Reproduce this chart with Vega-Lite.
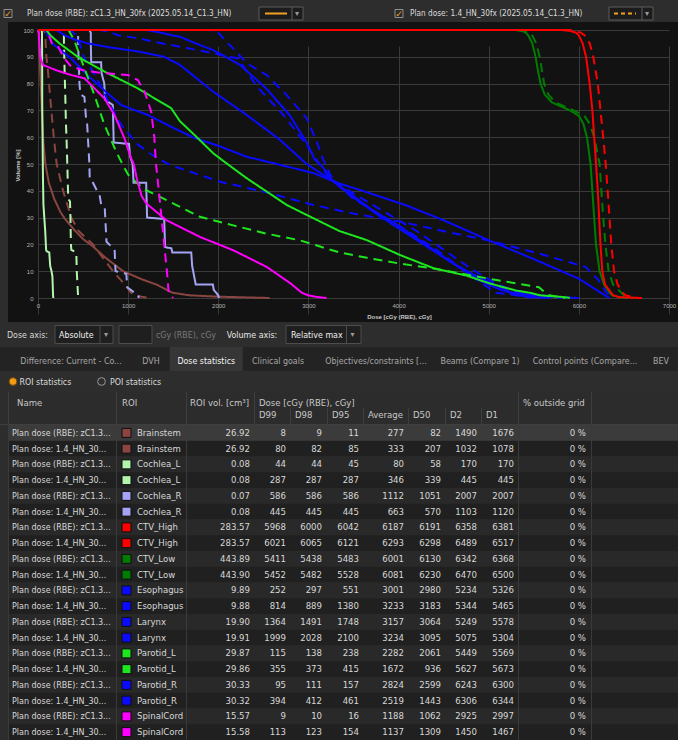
{
"$schema":"https://vega.github.io/schema/vega-lite/v6.json",
"background":"#2d2d2d","padding":0,"spacing":0,"bounds":"full",
"data":{"values":[{}]},
"config":{"view":{"stroke":null},"legend":{"disable":true},
 "text":{"font":"Liberation Sans Narrow, DejaVu Sans Condensed, sans-serif","fontSize":8.8,"color":"#dadada"}},
"datasets":{
"none":[],
"stats":[
{"row":1,"plan":"RBE","name":"Plan dose (RBE): zC1.3...","roi":"Brainstem","vol":26.92,"d99":8,"d98":9,"d95":11,"avg":277,"d50":82,"d2":1490,"d1":1676,"pct":0},
{"row":2,"plan":"1.4","name":"Plan dose: 1.4_HN_30...","roi":"Brainstem","vol":26.92,"d99":80,"d98":82,"d95":85,"avg":333,"d50":207,"d2":1032,"d1":1078,"pct":0},
{"row":3,"plan":"RBE","name":"Plan dose (RBE): zC1.3...","roi":"Cochlea_L","vol":0.08,"d99":44,"d98":44,"d95":45,"avg":80,"d50":58,"d2":170,"d1":170,"pct":0},
{"row":4,"plan":"1.4","name":"Plan dose: 1.4_HN_30...","roi":"Cochlea_L","vol":0.08,"d99":287,"d98":287,"d95":287,"avg":346,"d50":339,"d2":445,"d1":445,"pct":0},
{"row":5,"plan":"RBE","name":"Plan dose (RBE): zC1.3...","roi":"Cochlea_R","vol":0.07,"d99":586,"d98":586,"d95":586,"avg":1112,"d50":1051,"d2":2007,"d1":2007,"pct":0},
{"row":6,"plan":"1.4","name":"Plan dose: 1.4_HN_30...","roi":"Cochlea_R","vol":0.08,"d99":445,"d98":445,"d95":445,"avg":663,"d50":570,"d2":1103,"d1":1120,"pct":0},
{"row":7,"plan":"RBE","name":"Plan dose (RBE): zC1.3...","roi":"CTV_High","vol":283.57,"d99":5968,"d98":6000,"d95":6042,"avg":6187,"d50":6191,"d2":6358,"d1":6381,"pct":0},
{"row":8,"plan":"1.4","name":"Plan dose: 1.4_HN_30...","roi":"CTV_High","vol":283.57,"d99":6021,"d98":6065,"d95":6121,"avg":6293,"d50":6298,"d2":6489,"d1":6517,"pct":0},
{"row":9,"plan":"RBE","name":"Plan dose (RBE): zC1.3...","roi":"CTV_Low","vol":443.89,"d99":5411,"d98":5438,"d95":5483,"avg":6001,"d50":6130,"d2":6342,"d1":6368,"pct":0},
{"row":10,"plan":"1.4","name":"Plan dose: 1.4_HN_30...","roi":"CTV_Low","vol":443.90,"d99":5452,"d98":5482,"d95":5528,"avg":6081,"d50":6230,"d2":6470,"d1":6500,"pct":0},
{"row":11,"plan":"RBE","name":"Plan dose (RBE): zC1.3...","roi":"Esophagus","vol":9.89,"d99":252,"d98":297,"d95":551,"avg":3001,"d50":2980,"d2":5234,"d1":5326,"pct":0},
{"row":12,"plan":"1.4","name":"Plan dose: 1.4_HN_30...","roi":"Esophagus","vol":9.88,"d99":814,"d98":889,"d95":1380,"avg":3233,"d50":3183,"d2":5344,"d1":5465,"pct":0},
{"row":13,"plan":"RBE","name":"Plan dose (RBE): zC1.3...","roi":"Larynx","vol":19.90,"d99":1364,"d98":1491,"d95":1748,"avg":3157,"d50":3064,"d2":5249,"d1":5578,"pct":0},
{"row":14,"plan":"1.4","name":"Plan dose: 1.4_HN_30...","roi":"Larynx","vol":19.91,"d99":1999,"d98":2028,"d95":2100,"avg":3234,"d50":3095,"d2":5075,"d1":5304,"pct":0},
{"row":15,"plan":"RBE","name":"Plan dose (RBE): zC1.3...","roi":"Parotid_L","vol":29.87,"d99":115,"d98":138,"d95":238,"avg":2282,"d50":2061,"d2":5449,"d1":5569,"pct":0},
{"row":16,"plan":"1.4","name":"Plan dose: 1.4_HN_30...","roi":"Parotid_L","vol":29.86,"d99":355,"d98":373,"d95":415,"avg":1672,"d50":936,"d2":5627,"d1":5673,"pct":0},
{"row":17,"plan":"RBE","name":"Plan dose (RBE): zC1.3...","roi":"Parotid_R","vol":30.33,"d99":95,"d98":111,"d95":157,"avg":2824,"d50":2599,"d2":6243,"d1":6300,"pct":0},
{"row":18,"plan":"1.4","name":"Plan dose: 1.4_HN_30...","roi":"Parotid_R","vol":30.32,"d99":394,"d98":412,"d95":461,"avg":2519,"d50":1443,"d2":6306,"d1":6344,"pct":0},
{"row":19,"plan":"RBE","name":"Plan dose (RBE): zC1.3...","roi":"SpinalCord","vol":15.57,"d99":9,"d98":10,"d95":16,"avg":1188,"d50":1062,"d2":2925,"d1":2997,"pct":0},
{"row":20,"plan":"1.4","name":"Plan dose: 1.4_HN_30...","roi":"SpinalCord","vol":15.58,"d99":113,"d98":123,"d95":154,"avg":1137,"d50":1309,"d2":1450,"d1":1467,"pct":0}
],
"dvh":[
{"roi":"Brainstem","plan":"RBE","dose":0,"vol":100},{"roi":"Brainstem","plan":"RBE","dose":8,"vol":99},{"roi":"Brainstem","plan":"RBE","dose":9,"vol":98},{"roi":"Brainstem","plan":"RBE","dose":11,"vol":95},{"roi":"Brainstem","plan":"RBE","dose":20,"vol":88},{"roi":"Brainstem","plan":"RBE","dose":30,"vol":80},{"roi":"Brainstem","plan":"RBE","dose":45,"vol":68},{"roi":"Brainstem","plan":"RBE","dose":60,"vol":58},{"roi":"Brainstem","plan":"RBE","dose":82,"vol":50},{"roi":"Brainstem","plan":"RBE","dose":120,"vol":43},{"roi":"Brainstem","plan":"RBE","dose":180,"vol":37},{"roi":"Brainstem","plan":"RBE","dose":250,"vol":32},{"roi":"Brainstem","plan":"RBE","dose":300,"vol":29.5},{"roi":"Brainstem","plan":"RBE","dose":400,"vol":25.5},{"roi":"Brainstem","plan":"RBE","dose":500,"vol":22},{"roi":"Brainstem","plan":"RBE","dose":600,"vol":19.5},{"roi":"Brainstem","plan":"RBE","dose":750,"vol":15},{"roi":"Brainstem","plan":"RBE","dose":944,"vol":10},{"roi":"Brainstem","plan":"RBE","dose":1150,"vol":7},{"roi":"Brainstem","plan":"RBE","dose":1315,"vol":5},{"roi":"Brainstem","plan":"RBE","dose":1490,"vol":2},{"roi":"Brainstem","plan":"RBE","dose":1676,"vol":1},{"roi":"Brainstem","plan":"RBE","dose":2000,"vol":0.5},{"roi":"Brainstem","plan":"RBE","dose":2570,"vol":0},
{"roi":"Brainstem","plan":"1.4","dose":0,"vol":100},{"roi":"Brainstem","plan":"1.4","dose":60,"vol":100},{"roi":"Brainstem","plan":"1.4","dose":80,"vol":99},{"roi":"Brainstem","plan":"1.4","dose":82,"vol":98},{"roi":"Brainstem","plan":"1.4","dose":85,"vol":95},{"roi":"Brainstem","plan":"1.4","dose":93,"vol":90},{"roi":"Brainstem","plan":"1.4","dose":110,"vol":85},{"roi":"Brainstem","plan":"1.4","dose":122,"vol":80},{"roi":"Brainstem","plan":"1.4","dose":148,"vol":70},{"roi":"Brainstem","plan":"1.4","dose":175,"vol":60},{"roi":"Brainstem","plan":"1.4","dose":207,"vol":50},{"roi":"Brainstem","plan":"1.4","dose":278,"vol":40},{"roi":"Brainstem","plan":"1.4","dose":370,"vol":30},{"roi":"Brainstem","plan":"1.4","dose":450,"vol":25},{"roi":"Brainstem","plan":"1.4","dose":611,"vol":20},{"roi":"Brainstem","plan":"1.4","dose":720,"vol":15},{"roi":"Brainstem","plan":"1.4","dose":833,"vol":10},{"roi":"Brainstem","plan":"1.4","dose":963,"vol":5},{"roi":"Brainstem","plan":"1.4","dose":1032,"vol":2},{"roi":"Brainstem","plan":"1.4","dose":1078,"vol":1},{"roi":"Brainstem","plan":"1.4","dose":1150,"vol":0.5},{"roi":"Brainstem","plan":"1.4","dose":1250,"vol":0},
{"roi":"Cochlea_L","plan":"RBE","dose":0,"vol":100},{"roi":"Cochlea_L","plan":"RBE","dose":40,"vol":100},{"roi":"Cochlea_L","plan":"RBE","dose":44,"vol":99},{"roi":"Cochlea_L","plan":"RBE","dose":45,"vol":95},{"roi":"Cochlea_L","plan":"RBE","dose":46,"vol":88},{"roi":"Cochlea_L","plan":"RBE","dose":47,"vol":72},{"roi":"Cochlea_L","plan":"RBE","dose":52,"vol":55},{"roi":"Cochlea_L","plan":"RBE","dose":55,"vol":45},{"roi":"Cochlea_L","plan":"RBE","dose":60,"vol":35},{"roi":"Cochlea_L","plan":"RBE","dose":70,"vol":30},{"roi":"Cochlea_L","plan":"RBE","dose":80,"vol":25},{"roi":"Cochlea_L","plan":"RBE","dose":90,"vol":18},{"roi":"Cochlea_L","plan":"RBE","dose":95,"vol":17.5},{"roi":"Cochlea_L","plan":"RBE","dose":125,"vol":17},{"roi":"Cochlea_L","plan":"RBE","dose":135,"vol":12},{"roi":"Cochlea_L","plan":"RBE","dose":150,"vol":10},{"roi":"Cochlea_L","plan":"RBE","dose":160,"vol":8},{"roi":"Cochlea_L","plan":"RBE","dose":167,"vol":1},{"roi":"Cochlea_L","plan":"RBE","dose":170,"vol":0},
{"roi":"Cochlea_L","plan":"1.4","dose":0,"vol":100},{"roi":"Cochlea_L","plan":"1.4","dose":280,"vol":100},{"roi":"Cochlea_L","plan":"1.4","dose":287,"vol":99},{"roi":"Cochlea_L","plan":"1.4","dose":288,"vol":95},{"roi":"Cochlea_L","plan":"1.4","dose":295,"vol":85},{"roi":"Cochlea_L","plan":"1.4","dose":303,"vol":75},{"roi":"Cochlea_L","plan":"1.4","dose":310,"vol":65},{"roi":"Cochlea_L","plan":"1.4","dose":316,"vol":60},{"roi":"Cochlea_L","plan":"1.4","dose":325,"vol":50},{"roi":"Cochlea_L","plan":"1.4","dose":333,"vol":40},{"roi":"Cochlea_L","plan":"1.4","dose":335,"vol":37},{"roi":"Cochlea_L","plan":"1.4","dose":355,"vol":36},{"roi":"Cochlea_L","plan":"1.4","dose":360,"vol":30},{"roi":"Cochlea_L","plan":"1.4","dose":365,"vol":20},{"roi":"Cochlea_L","plan":"1.4","dose":370,"vol":18},{"roi":"Cochlea_L","plan":"1.4","dose":425,"vol":17},{"roi":"Cochlea_L","plan":"1.4","dose":430,"vol":10},{"roi":"Cochlea_L","plan":"1.4","dose":438,"vol":5},{"roi":"Cochlea_L","plan":"1.4","dose":445,"vol":0},
{"roi":"Cochlea_R","plan":"RBE","dose":0,"vol":100},{"roi":"Cochlea_R","plan":"RBE","dose":570,"vol":100},{"roi":"Cochlea_R","plan":"RBE","dose":586,"vol":99},{"roi":"Cochlea_R","plan":"RBE","dose":586,"vol":95},{"roi":"Cochlea_R","plan":"RBE","dose":590,"vol":88},{"roi":"Cochlea_R","plan":"RBE","dose":700,"vol":88},{"roi":"Cochlea_R","plan":"RBE","dose":705,"vol":84},{"roi":"Cochlea_R","plan":"RBE","dose":735,"vol":80},{"roi":"Cochlea_R","plan":"RBE","dose":745,"vol":74},{"roi":"Cochlea_R","plan":"RBE","dose":830,"vol":72},{"roi":"Cochlea_R","plan":"RBE","dose":840,"vol":58},{"roi":"Cochlea_R","plan":"RBE","dose":1010,"vol":57.5},{"roi":"Cochlea_R","plan":"RBE","dose":1020,"vol":53},{"roi":"Cochlea_R","plan":"RBE","dose":1050,"vol":50},{"roi":"Cochlea_R","plan":"RBE","dose":1060,"vol":43},{"roi":"Cochlea_R","plan":"RBE","dose":1200,"vol":43},{"roi":"Cochlea_R","plan":"RBE","dose":1210,"vol":30},{"roi":"Cochlea_R","plan":"RBE","dose":1400,"vol":29.5},{"roi":"Cochlea_R","plan":"RBE","dose":1410,"vol":19},{"roi":"Cochlea_R","plan":"RBE","dose":1480,"vol":18.5},{"roi":"Cochlea_R","plan":"RBE","dose":1490,"vol":17},{"roi":"Cochlea_R","plan":"RBE","dose":1700,"vol":17},{"roi":"Cochlea_R","plan":"RBE","dose":1710,"vol":12},{"roi":"Cochlea_R","plan":"RBE","dose":1750,"vol":5},{"roi":"Cochlea_R","plan":"RBE","dose":1940,"vol":5},{"roi":"Cochlea_R","plan":"RBE","dose":1950,"vol":3},{"roi":"Cochlea_R","plan":"RBE","dose":2000,"vol":1},{"roi":"Cochlea_R","plan":"RBE","dose":2007,"vol":0},
{"roi":"Cochlea_R","plan":"1.4","dose":0,"vol":100},{"roi":"Cochlea_R","plan":"1.4","dose":430,"vol":100},{"roi":"Cochlea_R","plan":"1.4","dose":445,"vol":99},{"roi":"Cochlea_R","plan":"1.4","dose":445,"vol":95},{"roi":"Cochlea_R","plan":"1.4","dose":455,"vol":85},{"roi":"Cochlea_R","plan":"1.4","dose":460,"vol":80},{"roi":"Cochlea_R","plan":"1.4","dose":470,"vol":76},{"roi":"Cochlea_R","plan":"1.4","dose":515,"vol":75},{"roi":"Cochlea_R","plan":"1.4","dose":535,"vol":66},{"roi":"Cochlea_R","plan":"1.4","dose":545,"vol":65},{"roi":"Cochlea_R","plan":"1.4","dose":570,"vol":50},{"roi":"Cochlea_R","plan":"1.4","dose":574,"vol":44},{"roi":"Cochlea_R","plan":"1.4","dose":610,"vol":43},{"roi":"Cochlea_R","plan":"1.4","dose":685,"vol":38},{"roi":"Cochlea_R","plan":"1.4","dose":700,"vol":35},{"roi":"Cochlea_R","plan":"1.4","dose":740,"vol":34},{"roi":"Cochlea_R","plan":"1.4","dose":760,"vol":21},{"roi":"Cochlea_R","plan":"1.4","dose":850,"vol":18},{"roi":"Cochlea_R","plan":"1.4","dose":860,"vol":10},{"roi":"Cochlea_R","plan":"1.4","dose":980,"vol":9},{"roi":"Cochlea_R","plan":"1.4","dose":990,"vol":4},{"roi":"Cochlea_R","plan":"1.4","dose":1070,"vol":2},{"roi":"Cochlea_R","plan":"1.4","dose":1103,"vol":1.5},{"roi":"Cochlea_R","plan":"1.4","dose":1120,"vol":0},
{"roi":"Esophagus","plan":"RBE","dose":0,"vol":100},{"roi":"Esophagus","plan":"RBE","dose":200,"vol":100},{"roi":"Esophagus","plan":"RBE","dose":252,"vol":99},{"roi":"Esophagus","plan":"RBE","dose":297,"vol":98},{"roi":"Esophagus","plan":"RBE","dose":400,"vol":96.5},{"roi":"Esophagus","plan":"RBE","dose":551,"vol":95},{"roi":"Esophagus","plan":"RBE","dose":800,"vol":93.5},{"roi":"Esophagus","plan":"RBE","dose":1108,"vol":92},{"roi":"Esophagus","plan":"RBE","dose":1400,"vol":90},{"roi":"Esophagus","plan":"RBE","dose":1574,"vol":87},{"roi":"Esophagus","plan":"RBE","dose":1944,"vol":77},{"roi":"Esophagus","plan":"RBE","dose":2315,"vol":68.3},{"roi":"Esophagus","plan":"RBE","dose":2685,"vol":59},{"roi":"Esophagus","plan":"RBE","dose":2980,"vol":50},{"roi":"Esophagus","plan":"RBE","dose":3300,"vol":43},{"roi":"Esophagus","plan":"RBE","dose":3500,"vol":38},{"roi":"Esophagus","plan":"RBE","dose":3700,"vol":33},{"roi":"Esophagus","plan":"RBE","dose":4000,"vol":27},{"roi":"Esophagus","plan":"RBE","dose":4300,"vol":20},{"roi":"Esophagus","plan":"RBE","dose":4600,"vol":13},{"roi":"Esophagus","plan":"RBE","dose":4900,"vol":6.5},{"roi":"Esophagus","plan":"RBE","dose":5100,"vol":3.5},{"roi":"Esophagus","plan":"RBE","dose":5234,"vol":2},{"roi":"Esophagus","plan":"RBE","dose":5326,"vol":1},{"roi":"Esophagus","plan":"RBE","dose":5500,"vol":0.3},{"roi":"Esophagus","plan":"RBE","dose":5650,"vol":0},
{"roi":"Esophagus","plan":"1.4","dose":0,"vol":100},{"roi":"Esophagus","plan":"1.4","dose":700,"vol":100},{"roi":"Esophagus","plan":"1.4","dose":814,"vol":99},{"roi":"Esophagus","plan":"1.4","dose":889,"vol":98},{"roi":"Esophagus","plan":"1.4","dose":1100,"vol":97},{"roi":"Esophagus","plan":"1.4","dose":1380,"vol":95},{"roi":"Esophagus","plan":"1.4","dose":1648,"vol":93.3},{"roi":"Esophagus","plan":"1.4","dose":1944,"vol":91.3},{"roi":"Esophagus","plan":"1.4","dose":2222,"vol":89.4},{"roi":"Esophagus","plan":"1.4","dose":2426,"vol":79},{"roi":"Esophagus","plan":"1.4","dose":2722,"vol":68.3},{"roi":"Esophagus","plan":"1.4","dose":2982,"vol":57},{"roi":"Esophagus","plan":"1.4","dose":3100,"vol":51},{"roi":"Esophagus","plan":"1.4","dose":3204,"vol":46},{"roi":"Esophagus","plan":"1.4","dose":3350,"vol":42},{"roi":"Esophagus","plan":"1.4","dose":3600,"vol":37},{"roi":"Esophagus","plan":"1.4","dose":3900,"vol":31},{"roi":"Esophagus","plan":"1.4","dose":4200,"vol":25},{"roi":"Esophagus","plan":"1.4","dose":4500,"vol":18},{"roi":"Esophagus","plan":"1.4","dose":4800,"vol":11},{"roi":"Esophagus","plan":"1.4","dose":5100,"vol":5},{"roi":"Esophagus","plan":"1.4","dose":5344,"vol":2},{"roi":"Esophagus","plan":"1.4","dose":5465,"vol":1},{"roi":"Esophagus","plan":"1.4","dose":5600,"vol":0.3},{"roi":"Esophagus","plan":"1.4","dose":5800,"vol":0},
{"roi":"Larynx","plan":"RBE","dose":0,"vol":100},{"roi":"Larynx","plan":"RBE","dose":1200,"vol":100},{"roi":"Larynx","plan":"RBE","dose":1364,"vol":99},{"roi":"Larynx","plan":"RBE","dose":1491,"vol":98},{"roi":"Larynx","plan":"RBE","dose":1574,"vol":97.5},{"roi":"Larynx","plan":"RBE","dose":1748,"vol":95},{"roi":"Larynx","plan":"RBE","dose":1944,"vol":92.5},{"roi":"Larynx","plan":"RBE","dose":2241,"vol":87},{"roi":"Larynx","plan":"RBE","dose":2537,"vol":78},{"roi":"Larynx","plan":"RBE","dose":2797,"vol":68},{"roi":"Larynx","plan":"RBE","dose":2981,"vol":58},{"roi":"Larynx","plan":"RBE","dose":3064,"vol":52},{"roi":"Larynx","plan":"RBE","dose":3167,"vol":48.5},{"roi":"Larynx","plan":"RBE","dose":3278,"vol":43.4},{"roi":"Larynx","plan":"RBE","dose":3500,"vol":37.5},{"roi":"Larynx","plan":"RBE","dose":3750,"vol":31.5},{"roi":"Larynx","plan":"RBE","dose":4000,"vol":26},{"roi":"Larynx","plan":"RBE","dose":4300,"vol":19.5},{"roi":"Larynx","plan":"RBE","dose":4600,"vol":13},{"roi":"Larynx","plan":"RBE","dose":4900,"vol":7.5},{"roi":"Larynx","plan":"RBE","dose":5100,"vol":4.5},{"roi":"Larynx","plan":"RBE","dose":5249,"vol":2},{"roi":"Larynx","plan":"RBE","dose":5400,"vol":1.4},{"roi":"Larynx","plan":"RBE","dose":5578,"vol":1},{"roi":"Larynx","plan":"RBE","dose":5800,"vol":0.3},{"roi":"Larynx","plan":"RBE","dose":6000,"vol":0},
{"roi":"Larynx","plan":"1.4","dose":0,"vol":100},{"roi":"Larynx","plan":"1.4","dose":1900,"vol":100},{"roi":"Larynx","plan":"1.4","dose":1999,"vol":99},{"roi":"Larynx","plan":"1.4","dose":2028,"vol":98},{"roi":"Larynx","plan":"1.4","dose":2100,"vol":95},{"roi":"Larynx","plan":"1.4","dose":2130,"vol":94.4},{"roi":"Larynx","plan":"1.4","dose":2315,"vol":87.6},{"roi":"Larynx","plan":"1.4","dose":2537,"vol":83.2},{"roi":"Larynx","plan":"1.4","dose":2760,"vol":75.7},{"roi":"Larynx","plan":"1.4","dose":2982,"vol":67},{"roi":"Larynx","plan":"1.4","dose":3095,"vol":58},{"roi":"Larynx","plan":"1.4","dose":3160,"vol":52},{"roi":"Larynx","plan":"1.4","dose":3241,"vol":46},{"roi":"Larynx","plan":"1.4","dose":3350,"vol":41.5},{"roi":"Larynx","plan":"1.4","dose":3500,"vol":37},{"roi":"Larynx","plan":"1.4","dose":3800,"vol":31},{"roi":"Larynx","plan":"1.4","dose":4100,"vol":25},{"roi":"Larynx","plan":"1.4","dose":4400,"vol":18.5},{"roi":"Larynx","plan":"1.4","dose":4700,"vol":11},{"roi":"Larynx","plan":"1.4","dose":4900,"vol":6},{"roi":"Larynx","plan":"1.4","dose":5075,"vol":2},{"roi":"Larynx","plan":"1.4","dose":5304,"vol":1},{"roi":"Larynx","plan":"1.4","dose":5450,"vol":0.3},{"roi":"Larynx","plan":"1.4","dose":5600,"vol":0},
{"roi":"Parotid_R","plan":"RBE","dose":0,"vol":100},{"roi":"Parotid_R","plan":"RBE","dose":80,"vol":100},{"roi":"Parotid_R","plan":"RBE","dose":95,"vol":99},{"roi":"Parotid_R","plan":"RBE","dose":111,"vol":98},{"roi":"Parotid_R","plan":"RBE","dose":157,"vol":95},{"roi":"Parotid_R","plan":"RBE","dose":250,"vol":92.5},{"roi":"Parotid_R","plan":"RBE","dose":367,"vol":89.4},{"roi":"Parotid_R","plan":"RBE","dose":552,"vol":83},{"roi":"Parotid_R","plan":"RBE","dose":750,"vol":77},{"roi":"Parotid_R","plan":"RBE","dose":922,"vol":72},{"roi":"Parotid_R","plan":"RBE","dose":1219,"vol":68.3},{"roi":"Parotid_R","plan":"RBE","dose":1500,"vol":63.5},{"roi":"Parotid_R","plan":"RBE","dose":1737,"vol":59.7},{"roi":"Parotid_R","plan":"RBE","dose":2000,"vol":56.8},{"roi":"Parotid_R","plan":"RBE","dose":2315,"vol":52.7},{"roi":"Parotid_R","plan":"RBE","dose":2650,"vol":50},{"roi":"Parotid_R","plan":"RBE","dose":3056,"vol":46.6},{"roi":"Parotid_R","plan":"RBE","dose":3343,"vol":42.7},{"roi":"Parotid_R","plan":"RBE","dose":3574,"vol":40.3},{"roi":"Parotid_R","plan":"RBE","dose":4081,"vol":34.6},{"roi":"Parotid_R","plan":"RBE","dose":4500,"vol":29},{"roi":"Parotid_R","plan":"RBE","dose":5004,"vol":21.5},{"roi":"Parotid_R","plan":"RBE","dose":5500,"vol":14.5},{"roi":"Parotid_R","plan":"RBE","dose":6000,"vol":7.2},{"roi":"Parotid_R","plan":"RBE","dose":6243,"vol":2},{"roi":"Parotid_R","plan":"RBE","dose":6300,"vol":0.8},{"roi":"Parotid_R","plan":"RBE","dose":6340,"vol":0},
{"roi":"Parotid_R","plan":"1.4","dose":0,"vol":100},{"roi":"Parotid_R","plan":"1.4","dose":350,"vol":100},{"roi":"Parotid_R","plan":"1.4","dose":394,"vol":99},{"roi":"Parotid_R","plan":"1.4","dose":412,"vol":98},{"roi":"Parotid_R","plan":"1.4","dose":461,"vol":95},{"roi":"Parotid_R","plan":"1.4","dose":515,"vol":89.4},{"roi":"Parotid_R","plan":"1.4","dose":600,"vol":85},{"roi":"Parotid_R","plan":"1.4","dose":682,"vol":80},{"roi":"Parotid_R","plan":"1.4","dose":800,"vol":72},{"roi":"Parotid_R","plan":"1.4","dose":922,"vol":64.6},{"roi":"Parotid_R","plan":"1.4","dose":1100,"vol":57.5},{"roi":"Parotid_R","plan":"1.4","dose":1237,"vol":54},{"roi":"Parotid_R","plan":"1.4","dose":1443,"vol":50},{"roi":"Parotid_R","plan":"1.4","dose":1574,"vol":48.4},{"roi":"Parotid_R","plan":"1.4","dose":2019,"vol":43.4},{"roi":"Parotid_R","plan":"1.4","dose":2500,"vol":39.7},{"roi":"Parotid_R","plan":"1.4","dose":3056,"vol":34.7},{"roi":"Parotid_R","plan":"1.4","dose":3500,"vol":31.5},{"roi":"Parotid_R","plan":"1.4","dose":4019,"vol":28.5},{"roi":"Parotid_R","plan":"1.4","dose":4450,"vol":25.3},{"roi":"Parotid_R","plan":"1.4","dose":4982,"vol":21.6},{"roi":"Parotid_R","plan":"1.4","dose":5557,"vol":16.6},{"roi":"Parotid_R","plan":"1.4","dose":6074,"vol":11.6},{"roi":"Parotid_R","plan":"1.4","dose":6221,"vol":6.6},{"roi":"Parotid_R","plan":"1.4","dose":6306,"vol":2},{"roi":"Parotid_R","plan":"1.4","dose":6344,"vol":1},{"roi":"Parotid_R","plan":"1.4","dose":6380,"vol":0},
{"roi":"Parotid_L","plan":"RBE","dose":0,"vol":100},{"roi":"Parotid_L","plan":"RBE","dose":90,"vol":100},{"roi":"Parotid_L","plan":"RBE","dose":115,"vol":99},{"roi":"Parotid_L","plan":"RBE","dose":138,"vol":98},{"roi":"Parotid_L","plan":"RBE","dose":238,"vol":95},{"roi":"Parotid_L","plan":"RBE","dose":441,"vol":90},{"roi":"Parotid_L","plan":"RBE","dose":737,"vol":84.5},{"roi":"Parotid_L","plan":"RBE","dose":1108,"vol":78.2},{"roi":"Parotid_L","plan":"RBE","dose":1478,"vol":70.8},{"roi":"Parotid_L","plan":"RBE","dose":1574,"vol":66},{"roi":"Parotid_L","plan":"RBE","dose":1737,"vol":60.8},{"roi":"Parotid_L","plan":"RBE","dose":1944,"vol":54},{"roi":"Parotid_L","plan":"RBE","dose":2061,"vol":51},{"roi":"Parotid_L","plan":"RBE","dose":2315,"vol":44.7},{"roi":"Parotid_L","plan":"RBE","dose":2760,"vol":34.7},{"roi":"Parotid_L","plan":"RBE","dose":2908,"vol":32.2},{"roi":"Parotid_L","plan":"RBE","dose":3343,"vol":25},{"roi":"Parotid_L","plan":"RBE","dose":3648,"vol":21.6},{"roi":"Parotid_L","plan":"RBE","dose":4019,"vol":16},{"roi":"Parotid_L","plan":"RBE","dose":4389,"vol":11.1},{"roi":"Parotid_L","plan":"RBE","dose":4760,"vol":8.3},{"roi":"Parotid_L","plan":"RBE","dose":5004,"vol":5.5},{"roi":"Parotid_L","plan":"RBE","dose":5300,"vol":2.8},{"roi":"Parotid_L","plan":"RBE","dose":5449,"vol":2},{"roi":"Parotid_L","plan":"RBE","dose":5569,"vol":1},{"roi":"Parotid_L","plan":"RBE","dose":5852,"vol":0.3},{"roi":"Parotid_L","plan":"RBE","dose":5900,"vol":0},
{"roi":"Parotid_L","plan":"1.4","dose":0,"vol":100},{"roi":"Parotid_L","plan":"1.4","dose":340,"vol":100},{"roi":"Parotid_L","plan":"1.4","dose":355,"vol":99},{"roi":"Parotid_L","plan":"1.4","dose":373,"vol":98},{"roi":"Parotid_L","plan":"1.4","dose":415,"vol":95},{"roi":"Parotid_L","plan":"1.4","dose":515,"vol":85.7},{"roi":"Parotid_L","plan":"1.4","dose":626,"vol":75.7},{"roi":"Parotid_L","plan":"1.4","dose":737,"vol":64.6},{"roi":"Parotid_L","plan":"1.4","dose":867,"vol":54.6},{"roi":"Parotid_L","plan":"1.4","dose":936,"vol":50},{"roi":"Parotid_L","plan":"1.4","dose":1000,"vol":46},{"roi":"Parotid_L","plan":"1.4","dose":1167,"vol":40.8},{"roi":"Parotid_L","plan":"1.4","dose":1426,"vol":36.5},{"roi":"Parotid_L","plan":"1.4","dose":1796,"vol":30.3},{"roi":"Parotid_L","plan":"1.4","dose":2167,"vol":27.1},{"roi":"Parotid_L","plan":"1.4","dose":2537,"vol":24},{"roi":"Parotid_L","plan":"1.4","dose":2907,"vol":21.5},{"roi":"Parotid_L","plan":"1.4","dose":3343,"vol":17},{"roi":"Parotid_L","plan":"1.4","dose":3648,"vol":15},{"roi":"Parotid_L","plan":"1.4","dose":4019,"vol":12.8},{"roi":"Parotid_L","plan":"1.4","dose":4389,"vol":11},{"roi":"Parotid_L","plan":"1.4","dose":5004,"vol":7.2},{"roi":"Parotid_L","plan":"1.4","dose":5557,"vol":4},{"roi":"Parotid_L","plan":"1.4","dose":5627,"vol":2},{"roi":"Parotid_L","plan":"1.4","dose":5673,"vol":1},{"roi":"Parotid_L","plan":"1.4","dose":5779,"vol":0.4},{"roi":"Parotid_L","plan":"1.4","dose":5850,"vol":0},
{"roi":"SpinalCord","plan":"RBE","dose":0,"vol":100},{"roi":"SpinalCord","plan":"RBE","dose":9,"vol":99},{"roi":"SpinalCord","plan":"RBE","dose":10,"vol":98},{"roi":"SpinalCord","plan":"RBE","dose":16,"vol":95},{"roi":"SpinalCord","plan":"RBE","dose":25,"vol":90},{"roi":"SpinalCord","plan":"RBE","dose":52,"vol":87},{"roi":"SpinalCord","plan":"RBE","dose":200,"vol":85},{"roi":"SpinalCord","plan":"RBE","dose":367,"vol":83.2},{"roi":"SpinalCord","plan":"RBE","dose":515,"vol":82},{"roi":"SpinalCord","plan":"RBE","dose":589,"vol":79.5},{"roi":"SpinalCord","plan":"RBE","dose":737,"vol":74.5},{"roi":"SpinalCord","plan":"RBE","dose":848,"vol":68.3},{"roi":"SpinalCord","plan":"RBE","dose":959,"vol":59.6},{"roi":"SpinalCord","plan":"RBE","dose":1033,"vol":52.1},{"roi":"SpinalCord","plan":"RBE","dose":1062,"vol":50},{"roi":"SpinalCord","plan":"RBE","dose":1100,"vol":44},{"roi":"SpinalCord","plan":"RBE","dose":1150,"vol":38},{"roi":"SpinalCord","plan":"RBE","dose":1204,"vol":35.2},{"roi":"SpinalCord","plan":"RBE","dose":1426,"vol":29},{"roi":"SpinalCord","plan":"RBE","dose":1796,"vol":22.8},{"roi":"SpinalCord","plan":"RBE","dose":2167,"vol":17.8},{"roi":"SpinalCord","plan":"RBE","dose":2537,"vol":11.6},{"roi":"SpinalCord","plan":"RBE","dose":2800,"vol":5.5},{"roi":"SpinalCord","plan":"RBE","dose":2925,"vol":2},{"roi":"SpinalCord","plan":"RBE","dose":2997,"vol":1},{"roi":"SpinalCord","plan":"RBE","dose":3093,"vol":0.4},{"roi":"SpinalCord","plan":"RBE","dose":3200,"vol":0},
{"roi":"SpinalCord","plan":"1.4","dose":0,"vol":100},{"roi":"SpinalCord","plan":"1.4","dose":100,"vol":100},{"roi":"SpinalCord","plan":"1.4","dose":113,"vol":99},{"roi":"SpinalCord","plan":"1.4","dose":123,"vol":98},{"roi":"SpinalCord","plan":"1.4","dose":154,"vol":95},{"roi":"SpinalCord","plan":"1.4","dose":219,"vol":94},{"roi":"SpinalCord","plan":"1.4","dose":293,"vol":89.4},{"roi":"SpinalCord","plan":"1.4","dose":367,"vol":86.3},{"roi":"SpinalCord","plan":"1.4","dose":500,"vol":85},{"roi":"SpinalCord","plan":"1.4","dose":700,"vol":84},{"roi":"SpinalCord","plan":"1.4","dose":997,"vol":83.2},{"roi":"SpinalCord","plan":"1.4","dose":1108,"vol":81.3},{"roi":"SpinalCord","plan":"1.4","dose":1182,"vol":77},{"roi":"SpinalCord","plan":"1.4","dose":1256,"vol":69.5},{"roi":"SpinalCord","plan":"1.4","dose":1290,"vol":60},{"roi":"SpinalCord","plan":"1.4","dose":1309,"vol":50},{"roi":"SpinalCord","plan":"1.4","dose":1340,"vol":40},{"roi":"SpinalCord","plan":"1.4","dose":1370,"vol":30},{"roi":"SpinalCord","plan":"1.4","dose":1400,"vol":20},{"roi":"SpinalCord","plan":"1.4","dose":1430,"vol":10},{"roi":"SpinalCord","plan":"1.4","dose":1450,"vol":2},{"roi":"SpinalCord","plan":"1.4","dose":1467,"vol":1},{"roi":"SpinalCord","plan":"1.4","dose":1500,"vol":0},
{"roi":"CTV_Low","plan":"RBE","dose":0,"vol":100},{"roi":"CTV_Low","plan":"RBE","dose":5300,"vol":100},{"roi":"CTV_Low","plan":"RBE","dose":5380,"vol":99.5},{"roi":"CTV_Low","plan":"RBE","dose":5411,"vol":99},{"roi":"CTV_Low","plan":"RBE","dose":5438,"vol":98},{"roi":"CTV_Low","plan":"RBE","dose":5483,"vol":95},{"roi":"CTV_Low","plan":"RBE","dose":5520,"vol":90},{"roi":"CTV_Low","plan":"RBE","dose":5545,"vol":85},{"roi":"CTV_Low","plan":"RBE","dose":5575,"vol":80},{"roi":"CTV_Low","plan":"RBE","dose":5620,"vol":76},{"roi":"CTV_Low","plan":"RBE","dose":5700,"vol":73},{"roi":"CTV_Low","plan":"RBE","dose":5800,"vol":71.5},{"roi":"CTV_Low","plan":"RBE","dose":5900,"vol":70},{"roi":"CTV_Low","plan":"RBE","dose":6000,"vol":68},{"roi":"CTV_Low","plan":"RBE","dose":6050,"vol":65},{"roi":"CTV_Low","plan":"RBE","dose":6090,"vol":60},{"roi":"CTV_Low","plan":"RBE","dose":6130,"vol":50},{"roi":"CTV_Low","plan":"RBE","dose":6150,"vol":40},{"roi":"CTV_Low","plan":"RBE","dose":6170,"vol":30},{"roi":"CTV_Low","plan":"RBE","dose":6190,"vol":20},{"roi":"CTV_Low","plan":"RBE","dose":6230,"vol":10},{"roi":"CTV_Low","plan":"RBE","dose":6280,"vol":5},{"roi":"CTV_Low","plan":"RBE","dose":6342,"vol":2},{"roi":"CTV_Low","plan":"RBE","dose":6368,"vol":1},{"roi":"CTV_Low","plan":"RBE","dose":6450,"vol":0.3},{"roi":"CTV_Low","plan":"RBE","dose":6550,"vol":0},
{"roi":"CTV_Low","plan":"1.4","dose":0,"vol":100},{"roi":"CTV_Low","plan":"1.4","dose":5350,"vol":100},{"roi":"CTV_Low","plan":"1.4","dose":5420,"vol":99.5},{"roi":"CTV_Low","plan":"1.4","dose":5452,"vol":99},{"roi":"CTV_Low","plan":"1.4","dose":5482,"vol":98},{"roi":"CTV_Low","plan":"1.4","dose":5528,"vol":95},{"roi":"CTV_Low","plan":"1.4","dose":5565,"vol":90},{"roi":"CTV_Low","plan":"1.4","dose":5590,"vol":85},{"roi":"CTV_Low","plan":"1.4","dose":5615,"vol":80},{"roi":"CTV_Low","plan":"1.4","dose":5660,"vol":76},{"roi":"CTV_Low","plan":"1.4","dose":5740,"vol":73},{"roi":"CTV_Low","plan":"1.4","dose":5840,"vol":71.5},{"roi":"CTV_Low","plan":"1.4","dose":5940,"vol":70},{"roi":"CTV_Low","plan":"1.4","dose":6060,"vol":68},{"roi":"CTV_Low","plan":"1.4","dose":6120,"vol":65},{"roi":"CTV_Low","plan":"1.4","dose":6170,"vol":60},{"roi":"CTV_Low","plan":"1.4","dose":6230,"vol":50},{"roi":"CTV_Low","plan":"1.4","dose":6250,"vol":40},{"roi":"CTV_Low","plan":"1.4","dose":6270,"vol":30},{"roi":"CTV_Low","plan":"1.4","dose":6295,"vol":20},{"roi":"CTV_Low","plan":"1.4","dose":6330,"vol":10},{"roi":"CTV_Low","plan":"1.4","dose":6380,"vol":5},{"roi":"CTV_Low","plan":"1.4","dose":6470,"vol":2},{"roi":"CTV_Low","plan":"1.4","dose":6500,"vol":1},{"roi":"CTV_Low","plan":"1.4","dose":6560,"vol":0.3},{"roi":"CTV_Low","plan":"1.4","dose":6620,"vol":0},
{"roi":"CTV_High","plan":"RBE","dose":0,"vol":100},{"roi":"CTV_High","plan":"RBE","dose":5800,"vol":100},{"roi":"CTV_High","plan":"RBE","dose":5900,"vol":99.7},{"roi":"CTV_High","plan":"RBE","dose":5968,"vol":99},{"roi":"CTV_High","plan":"RBE","dose":6000,"vol":98},{"roi":"CTV_High","plan":"RBE","dose":6042,"vol":95},{"roi":"CTV_High","plan":"RBE","dose":6080,"vol":90},{"roi":"CTV_High","plan":"RBE","dose":6120,"vol":80},{"roi":"CTV_High","plan":"RBE","dose":6150,"vol":70},{"roi":"CTV_High","plan":"RBE","dose":6170,"vol":60},{"roi":"CTV_High","plan":"RBE","dose":6191,"vol":50},{"roi":"CTV_High","plan":"RBE","dose":6210,"vol":40},{"roi":"CTV_High","plan":"RBE","dose":6225,"vol":30},{"roi":"CTV_High","plan":"RBE","dose":6240,"vol":20},{"roi":"CTV_High","plan":"RBE","dose":6260,"vol":10},{"roi":"CTV_High","plan":"RBE","dose":6290,"vol":5},{"roi":"CTV_High","plan":"RBE","dose":6358,"vol":2},{"roi":"CTV_High","plan":"RBE","dose":6381,"vol":1},{"roi":"CTV_High","plan":"RBE","dose":6450,"vol":0.3},{"roi":"CTV_High","plan":"RBE","dose":6700,"vol":0},
{"roi":"CTV_High","plan":"1.4","dose":0,"vol":100},{"roi":"CTV_High","plan":"1.4","dose":5900,"vol":100},{"roi":"CTV_High","plan":"1.4","dose":5970,"vol":99.6},{"roi":"CTV_High","plan":"1.4","dose":6021,"vol":99},{"roi":"CTV_High","plan":"1.4","dose":6065,"vol":98},{"roi":"CTV_High","plan":"1.4","dose":6121,"vol":95},{"roi":"CTV_High","plan":"1.4","dose":6160,"vol":90},{"roi":"CTV_High","plan":"1.4","dose":6210,"vol":80},{"roi":"CTV_High","plan":"1.4","dose":6240,"vol":70},{"roi":"CTV_High","plan":"1.4","dose":6270,"vol":60},{"roi":"CTV_High","plan":"1.4","dose":6298,"vol":50},{"roi":"CTV_High","plan":"1.4","dose":6320,"vol":40},{"roi":"CTV_High","plan":"1.4","dose":6340,"vol":30},{"roi":"CTV_High","plan":"1.4","dose":6360,"vol":20},{"roi":"CTV_High","plan":"1.4","dose":6390,"vol":10},{"roi":"CTV_High","plan":"1.4","dose":6430,"vol":5},{"roi":"CTV_High","plan":"1.4","dose":6489,"vol":2},{"roi":"CTV_High","plan":"1.4","dose":6517,"vol":1},{"roi":"CTV_High","plan":"1.4","dose":6600,"vol":0.3},{"roi":"CTV_High","plan":"1.4","dose":6650,"vol":0}
]},
"vconcat":[
{"spacing":0,"bounds":"flush","hconcat":[
 {"width":16,"height":22,"layer":[
  {"mark":{"type":"point","shape":"M-4,-1.5H4V6.5H-4Z","size":4,"filled":true,"opacity":1,"fill":"#2a2a2a","stroke":"#909090","strokeWidth":1}},
  {"mark":{"type":"text","text":"✓","font":"DejaVu Sans","fontSize":9,"color":"#f5a020","dy":2.5}}]},
 {"width":240,"height":22,"mark":{"type":"text","text":"Plan dose (RBE): zC1.3_HN_30fx (2025.05.14_C1.3_HN)","align":"left","dx":-109,"dy":2.5,"fontSize":8.2,"color":"#dddddd"}},
 {"width":50,"height":22,"layer":[
  {"mark":{"type":"point","shape":"M-22,-4H22V9H-22Z M11,-4V9","size":4,"filled":true,"opacity":1,"fill":"#1c1c1c","stroke":"#5c5c5c","strokeWidth":1}},
  {"mark":{"type":"point","shape":"M-16,2.5H6","size":4,"filled":false,"opacity":1,"stroke":"#f5a020","strokeWidth":2}},
  {"mark":{"type":"text","text":"▾","font":"DejaVu Sans","fontSize":8,"color":"#9a9a9a","dx":16,"dy":2.5}}]},
 {"width":85,"height":22,"data":{"name":"none"},"mark":{"type":"text","text":""}},
 {"width":16,"height":22,"layer":[
  {"mark":{"type":"point","shape":"M-4,-1.5H4V6.5H-4Z","size":4,"filled":true,"opacity":1,"fill":"#2a2a2a","stroke":"#909090","strokeWidth":1}},
  {"mark":{"type":"text","text":"✓","font":"DejaVu Sans","fontSize":9,"color":"#f5a020","dy":2.5}}]},
 {"width":199,"height":22,"mark":{"type":"text","text":"Plan dose: 1.4_HN_30fx (2025.05.14_C1.3_HN)","align":"left","dx":-96.5,"dy":2.5,"fontSize":8.2,"color":"#dddddd"}},
 {"width":50,"height":22,"layer":[
  {"mark":{"type":"point","shape":"M-22,-4H22V9H-22Z M11,-4V9","size":4,"filled":true,"opacity":1,"fill":"#1c1c1c","stroke":"#5c5c5c","strokeWidth":1}},
  {"mark":{"type":"point","shape":"M-17,2.5H5","size":4,"filled":false,"opacity":1,"stroke":"#f5a020","strokeWidth":2,"strokeDash":[4,3]}},
  {"mark":{"type":"text","text":"▾","font":"DejaVu Sans","fontSize":8,"color":"#9a9a9a","dx":16,"dy":2.5}}]},
 {"width":22,"height":22,"data":{"name":"none"},"mark":{"type":"text","text":""}}
]},
{"spacing":0,"bounds":"flush","hconcat":[
 {"width":8,"height":300,"data":{"name":"none"},"mark":{"type":"text","text":""}},
 {"width":670,"height":300,"view":{"fill":"#121212"},"data":{"name":"dvh"},
  "mark":{"type":"line","strokeWidth":2},
  "encoding":{
   "x":{"field":"dose","type":"quantitative","scale":{"domain":[0,7000],"range":[30,661],"nice":false,"zero":false},
     "axis":{"values":[0,1000,2000,3000,4000,5000,6000,7000],"format":"d","offset":-24,"domain":false,"ticks":false,"labelPadding":4,"labelFontSize":6,"labelColor":"#b4b4b4","labelFont":"Liberation Sans","labelFlush":false,"grid":true,"gridColor":"#3a3a3a","gridWidth":1,"title":"Dose [cGy (RBE), cGy]","titleFont":"Liberation Sans","titleFontSize":6,"titleFontWeight":"bold","titleColor":"#c8c8c8","titleX":391,"titleY":18,"titleAlign":"center","titleBaseline":"middle"}},
   "y":{"field":"vol","type":"quantitative","scale":{"domain":[0,100],"range":[276,8],"nice":false,"zero":false},
     "axis":{"values":[0,10,20,30,40,50,60,70,80,90,100],"offset":-30,"domain":false,"ticks":false,"labelPadding":5,"labelFontSize":6,"labelColor":"#b4b4b4","labelFont":"Liberation Sans","grid":true,"gridColor":"#3a3a3a","gridWidth":1,"title":"Volume [%]","titleFont":"Liberation Sans","titleFontSize":6,"titleFontWeight":"bold","titleColor":"#c8c8c8","titleX":-21,"titleY":143,"titleAngle":-90,"titleAlign":"center","titleBaseline":"middle"}},
   "color":{"field":"roi","type":"nominal","legend":null,"scale":{"domain":["Brainstem","Cochlea_L","Cochlea_R","CTV_High","CTV_Low","Esophagus","Larynx","Parotid_L","Parotid_R","SpinalCord"],"range":["#8a4540","#b4f5ad","#a4a4f4","#ff0000","#007d00","#0a0aff","#0a0aff","#1ee61e","#0a0aff","#ff00ff"]}},
   "strokeDash":{"field":"plan","type":"nominal","legend":null,"scale":{"domain":["RBE","1.4"],"range":[[1,0],[9,6]]}},
   "order":{"value":null}
  }}
]},
{"spacing":0,"bounds":"flush","hconcat":[
 {"width":55,"height":25,"mark":{"type":"text","text":"Dose axis:","color":"#dadada"}},
 {"width":58,"height":25,"layer":[
  {"mark":{"type":"point","shape":"M-29,-9H29V9H-29Z M16,-9V9","size":4,"filled":true,"opacity":1,"fill":"#1f1f1f","stroke":"#4d4d4d","strokeWidth":1}},
  {"mark":{"type":"text","text":"Absolute","align":"left","dx":-25,"color":"#f0f0f0"}},
  {"mark":{"type":"text","text":"▾","font":"DejaVu Sans","fontSize":8,"color":"#9a9a9a","dx":22}}]},
 {"width":45,"height":25,"mark":{"type":"point","shape":"M-16.5,-9H16.5V9H-16.5Z","size":4,"filled":true,"opacity":1,"fill":"#1f1f1f","stroke":"#4d4d4d","strokeWidth":1}},
 {"width":60,"height":25,"mark":{"type":"text","text":"cGy (RBE), cGy","dx":-2,"color":"#7a7a7a"}},
 {"width":68,"height":25,"mark":{"type":"text","text":"Volume axis:","color":"#e8e8e8"}},
 {"width":75,"height":25,"layer":[
  {"mark":{"type":"point","shape":"M-37.5,-9H37.5V9H-37.5Z M23,-9V9","size":4,"filled":true,"opacity":1,"fill":"#1f1f1f","stroke":"#4d4d4d","strokeWidth":1}},
  {"mark":{"type":"text","text":"Relative max","align":"left","dx":-32.5,"color":"#f0f0f0"}},
  {"mark":{"type":"text","text":"▾","font":"DejaVu Sans","fontSize":8,"color":"#9a9a9a","dx":29}}]},
 {"width":317,"height":25,"data":{"name":"none"},"mark":{"type":"text","text":""}}
]},
{"spacing":0,"bounds":"flush","hconcat":[
 {"width":142,"height":24,"view":{"fill":"#232323"},"mark":{"type":"text","text":"Difference: Current - Co...","dy":1.5,"color":"#a8a8a8"}},
 {"width":18,"height":24,"view":{"fill":"#232323"},"mark":{"type":"text","text":"DVH","dy":1.5,"color":"#a8a8a8"}},
 {"width":9.5,"height":24,"view":{"fill":"#232323"},"data":{"name":"none"},"mark":{"type":"text","text":""}},
 {"width":72.5,"height":24,"view":{"fill":"#363636"},"mark":{"type":"text","text":"Dose statistics","dy":1.5,"color":"#f4f4f4"}},
 {"width":70,"height":24,"view":{"fill":"#232323"},"mark":{"type":"text","text":"Clinical goals","dy":1.5,"color":"#a8a8a8"}},
 {"width":126,"height":24,"view":{"fill":"#232323"},"mark":{"type":"text","text":"Objectives/constraints [...","dy":1.5,"color":"#a8a8a8"}},
 {"width":82,"height":24,"view":{"fill":"#232323"},"mark":{"type":"text","text":"Beams (Compare 1)","dy":1.5,"color":"#a8a8a8"}},
 {"width":128,"height":24,"view":{"fill":"#232323"},"mark":{"type":"text","text":"Control points (Compare...","dy":1.5,"color":"#a8a8a8"}},
 {"width":24,"height":24,"view":{"fill":"#232323"},"mark":{"type":"text","text":"BEV","dy":1.5,"color":"#a8a8a8"}},
 {"width":6,"height":24,"view":{"fill":"#232323"},"data":{"name":"none"},"mark":{"type":"text","text":""}}
]},
{"spacing":0,"bounds":"flush","hconcat":[
 {"width":26,"height":21,"layer":[
  {"mark":{"type":"point","shape":"circle","size":60,"filled":true,"opacity":1,"fill":"#f29a16","stroke":"#7a4a08","strokeWidth":1}},
  {"mark":{"type":"text","text":"ROI statistics","align":"left","dx":6.5,"color":"#dadada"}}]},
 {"width":64,"height":21,"data":{"name":"none"},"mark":{"type":"text","text":""}},
 {"width":23,"height":21,"layer":[
  {"mark":{"type":"point","shape":"circle","size":60,"filled":false,"opacity":1,"stroke":"#9a9a9a","strokeWidth":1}},
  {"mark":{"type":"text","text":"POI statistics","align":"left","dx":8.5,"color":"#dadada"}}]},
 {"width":565,"height":21,"data":{"name":"none"},"mark":{"type":"text","text":""}}
]},
{"spacing":0,"bounds":"full","hconcat":[
 {"width":8,"height":32,"data":{"name":"none"},"mark":{"type":"text","text":""}},
 {"width":1,"height":32,"view":{"fill":"#3e3e3e"},"data":{"name":"none"},"mark":{"type":"text","text":""}},
 {"width":107,"height":32,"view":{"fill":"#2c2c2c"},"mark":{"type":"text","text":"Name","align":"left","dx":-45.5,"dy":-5,"fontSize":9.5,"color":"#c8c8c8"}},
 {"width":1,"height":32,"view":{"fill":"#3e3e3e"},"data":{"name":"none"},"mark":{"type":"text","text":""}},
 {"width":69,"height":32,"view":{"fill":"#2c2c2c"},"mark":{"type":"text","text":"ROI","align":"left","dx":-29.5,"dy":-5,"fontSize":9.5,"color":"#c8c8c8"}},
 {"width":1,"height":32,"view":{"fill":"#3e3e3e"},"data":{"name":"none"},"mark":{"type":"text","text":""}},
 {"width":67,"height":32,"view":{"fill":"#2c2c2c"},"mark":{"type":"text","text":"ROI vol. [cm³]","align":"left","dx":-30.5,"dy":-5,"fontSize":9.5,"color":"#c8c8c8"}},
 {"width":1,"height":32,"view":{"fill":"#3e3e3e"},"data":{"name":"none"},"mark":{"type":"text","text":""}},
 {"spacing":0,"bounds":"full","vconcat":[
  {"width":263,"height":16,"view":{"fill":"#2c2c2c"},"mark":{"type":"text","text":"Dose [cGy (RBE), cGy]","align":"left","dx":-127.5,"dy":3,"fontSize":9.5,"color":"#c8c8c8"}},
  {"spacing":0,"bounds":"flush","hconcat":[
   {"width":35,"height":16,"view":{"fill":"#2c2c2c"},"mark":{"type":"text","text":"D99","align":"left","dx":-13.5,"dy":-1.5,"fontSize":9.5,"color":"#c8c8c8"}},
   {"width":1,"height":16,"view":{"fill":"#3e3e3e"},"data":{"name":"none"},"mark":{"type":"text","text":""}},
   {"width":36,"height":16,"view":{"fill":"#2c2c2c"},"mark":{"type":"text","text":"D98","align":"left","dx":-14,"dy":-1.5,"fontSize":9.5,"color":"#c8c8c8"}},
   {"width":1,"height":16,"view":{"fill":"#3e3e3e"},"data":{"name":"none"},"mark":{"type":"text","text":""}},
   {"width":35,"height":16,"view":{"fill":"#2c2c2c"},"mark":{"type":"text","text":"D95","align":"left","dx":-13.5,"dy":-1.5,"fontSize":9.5,"color":"#c8c8c8"}},
   {"width":1,"height":16,"view":{"fill":"#3e3e3e"},"data":{"name":"none"},"mark":{"type":"text","text":""}},
   {"width":44,"height":16,"view":{"fill":"#2c2c2c"},"mark":{"type":"text","text":"Average","align":"left","dx":-18,"dy":-1.5,"fontSize":9.5,"color":"#c8c8c8"}},
   {"width":1,"height":16,"view":{"fill":"#3e3e3e"},"data":{"name":"none"},"mark":{"type":"text","text":""}},
   {"width":36,"height":16,"view":{"fill":"#2c2c2c"},"mark":{"type":"text","text":"D50","align":"left","dx":-14,"dy":-1.5,"fontSize":9.5,"color":"#c8c8c8"}},
   {"width":1,"height":16,"view":{"fill":"#3e3e3e"},"data":{"name":"none"},"mark":{"type":"text","text":""}},
   {"width":35,"height":16,"view":{"fill":"#2c2c2c"},"mark":{"type":"text","text":"D2","align":"left","dx":-13.5,"dy":-1.5,"fontSize":9.5,"color":"#c8c8c8"}},
   {"width":1,"height":16,"view":{"fill":"#3e3e3e"},"data":{"name":"none"},"mark":{"type":"text","text":""}},
   {"width":36,"height":16,"view":{"fill":"#2c2c2c"},"mark":{"type":"text","text":"D1","align":"left","dx":-14,"dy":-1.5,"fontSize":9.5,"color":"#c8c8c8"}}
  ]}
 ]},
 {"width":1,"height":32,"view":{"fill":"#3e3e3e"},"data":{"name":"none"},"mark":{"type":"text","text":""}},
 {"width":72,"height":32,"view":{"fill":"#2c2c2c"},"mark":{"type":"text","text":"% outside grid","align":"left","dx":-32,"dy":-5,"fontSize":9.5,"color":"#c8c8c8"}},
 {"width":1,"height":32,"view":{"fill":"#3e3e3e"},"data":{"name":"none"},"mark":{"type":"text","text":""}},
 {"width":86,"height":32,"view":{"fill":"#2c2c2c"},"data":{"name":"none"},"mark":{"type":"text","text":""}}
]},
{"width":678,"height":1,"view":{"fill":"#3e3e3e"},"data":{"name":"none"},"mark":{"type":"text","text":""}},
{"spacing":0,"bounds":"flush","hconcat":[
 {"width":8,"height":315,"data":{"name":"none"},"mark":{"type":"text","text":""}},
 {"width":1,"height":315,"view":{"fill":"#3a3a3a"},"data":{"name":"none"},"mark":{"type":"text","text":""}},
 {"width":107,"height":315,"data":{"name":"stats"},"layer":[
  {"mark":{"type":"rect"},"encoding":{"y":{"field":"row","type":"ordinal","axis":null,"scale":{"paddingInner":0,"paddingOuter":0}},"fill":{"field":"plan","type":"nominal","legend":null,"scale":{"domain":["RBE","1.4"],"range":["#292929","#202020"]}}}},
  {"transform":[{"filter":"datum.row == 1"}],"mark":{"type":"rect","fill":"#3b3b3b"},"encoding":{"y":{"field":"row","type":"ordinal","axis":null,"scale":{"paddingInner":0,"paddingOuter":0}}}},
  {"mark":{"type":"text","align":"left","dx":-50.5,"fontSize":8.9,"color":"#d8d8d8"},"encoding":{"y":{"field":"row","type":"ordinal","axis":null,"scale":{"paddingInner":0,"paddingOuter":0}},"text":{"field":"name","type":"nominal"}}}]},
 {"width":1,"height":315,"view":{"fill":"#3a3a3a"},"data":{"name":"none"},"mark":{"type":"text","text":""}},
 {"width":69,"height":315,"data":{"name":"stats"},"layer":[
  {"mark":{"type":"rect"},"encoding":{"y":{"field":"row","type":"ordinal","axis":null,"scale":{"paddingInner":0,"paddingOuter":0}},"fill":{"field":"plan","type":"nominal","legend":null,"scale":{"domain":["RBE","1.4"],"range":["#292929","#202020"]}}}},
  {"transform":[{"filter":"datum.row == 1"}],"mark":{"type":"rect","fill":"#3b3b3b"},"encoding":{"y":{"field":"row","type":"ordinal","axis":null,"scale":{"paddingInner":0,"paddingOuter":0}}}},
  {"mark":{"type":"point","shape":"M-29.5,-4.5H-20.5V4.5H-29.5Z","size":4,"filled":true,"opacity":1,"stroke":"#0e0e0e","strokeWidth":1},"encoding":{"y":{"field":"row","type":"ordinal","axis":null,"scale":{"paddingInner":0,"paddingOuter":0}},"color":{"field":"roi","type":"nominal","legend":null,"scale":{"domain":["Brainstem","Cochlea_L","Cochlea_R","CTV_High","CTV_Low","Esophagus","Larynx","Parotid_L","Parotid_R","SpinalCord"],"range":["#8a4540","#b4f5ad","#a4a4f4","#ff0000","#007d00","#0a0aff","#0a0aff","#1ee61e","#0a0aff","#ff00ff"]}}}},
  {"mark":{"type":"text","align":"left","dx":-14.5,"fontSize":9.5,"color":"#d8d8d8"},"encoding":{"y":{"field":"row","type":"ordinal","axis":null,"scale":{"paddingInner":0,"paddingOuter":0}},"text":{"field":"roi","type":"nominal"}}}]},
 {"width":1,"height":315,"view":{"fill":"#3a3a3a"},"data":{"name":"none"},"mark":{"type":"text","text":""}},
 {"width":68,"height":315,"data":{"name":"stats"},"layer":[
  {"mark":{"type":"rect"},"encoding":{"y":{"field":"row","type":"ordinal","axis":null,"scale":{"paddingInner":0,"paddingOuter":0}},"fill":{"field":"plan","type":"nominal","legend":null,"scale":{"domain":["RBE","1.4"],"range":["#292929","#202020"]}}}},
  {"transform":[{"filter":"datum.row == 1"}],"mark":{"type":"rect","fill":"#3b3b3b"},"encoding":{"y":{"field":"row","type":"ordinal","axis":null,"scale":{"paddingInner":0,"paddingOuter":0}}}},
  {"mark":{"type":"text","align":"right","dx":29,"fontSize":9.5,"color":"#d8d8d8"},"encoding":{"y":{"field":"row","type":"ordinal","axis":null,"scale":{"paddingInner":0,"paddingOuter":0}},"text":{"field":"vol","type":"quantitative","format":".2f"}}}]},
 {"width":36,"height":315,"data":{"name":"stats"},"layer":[
  {"mark":{"type":"rect"},"encoding":{"y":{"field":"row","type":"ordinal","axis":null,"scale":{"paddingInner":0,"paddingOuter":0}},"fill":{"field":"plan","type":"nominal","legend":null,"scale":{"domain":["RBE","1.4"],"range":["#292929","#202020"]}}}},
  {"transform":[{"filter":"datum.row == 1"}],"mark":{"type":"rect","fill":"#3b3b3b"},"encoding":{"y":{"field":"row","type":"ordinal","axis":null,"scale":{"paddingInner":0,"paddingOuter":0}}}},
  {"mark":{"type":"text","align":"right","dx":13,"fontSize":9.5,"color":"#d8d8d8"},"encoding":{"y":{"field":"row","type":"ordinal","axis":null,"scale":{"paddingInner":0,"paddingOuter":0}},"text":{"field":"d99","type":"quantitative","format":"d"}}}]},
 {"width":37,"height":315,"data":{"name":"stats"},"layer":[
  {"mark":{"type":"rect"},"encoding":{"y":{"field":"row","type":"ordinal","axis":null,"scale":{"paddingInner":0,"paddingOuter":0}},"fill":{"field":"plan","type":"nominal","legend":null,"scale":{"domain":["RBE","1.4"],"range":["#292929","#202020"]}}}},
  {"transform":[{"filter":"datum.row == 1"}],"mark":{"type":"rect","fill":"#3b3b3b"},"encoding":{"y":{"field":"row","type":"ordinal","axis":null,"scale":{"paddingInner":0,"paddingOuter":0}}}},
  {"mark":{"type":"text","align":"right","dx":12.5,"fontSize":9.5,"color":"#d8d8d8"},"encoding":{"y":{"field":"row","type":"ordinal","axis":null,"scale":{"paddingInner":0,"paddingOuter":0}},"text":{"field":"d98","type":"quantitative","format":"d"}}}]},
 {"width":36,"height":315,"data":{"name":"stats"},"layer":[
  {"mark":{"type":"rect"},"encoding":{"y":{"field":"row","type":"ordinal","axis":null,"scale":{"paddingInner":0,"paddingOuter":0}},"fill":{"field":"plan","type":"nominal","legend":null,"scale":{"domain":["RBE","1.4"],"range":["#292929","#202020"]}}}},
  {"transform":[{"filter":"datum.row == 1"}],"mark":{"type":"rect","fill":"#3b3b3b"},"encoding":{"y":{"field":"row","type":"ordinal","axis":null,"scale":{"paddingInner":0,"paddingOuter":0}}}},
  {"mark":{"type":"text","align":"right","dx":13,"fontSize":9.5,"color":"#d8d8d8"},"encoding":{"y":{"field":"row","type":"ordinal","axis":null,"scale":{"paddingInner":0,"paddingOuter":0}},"text":{"field":"d95","type":"quantitative","format":"d"}}}]},
 {"width":45,"height":315,"data":{"name":"stats"},"layer":[
  {"mark":{"type":"rect"},"encoding":{"y":{"field":"row","type":"ordinal","axis":null,"scale":{"paddingInner":0,"paddingOuter":0}},"fill":{"field":"plan","type":"nominal","legend":null,"scale":{"domain":["RBE","1.4"],"range":["#292929","#202020"]}}}},
  {"transform":[{"filter":"datum.row == 1"}],"mark":{"type":"rect","fill":"#3b3b3b"},"encoding":{"y":{"field":"row","type":"ordinal","axis":null,"scale":{"paddingInner":0,"paddingOuter":0}}}},
  {"mark":{"type":"text","align":"right","dx":17.5,"fontSize":9.5,"color":"#d8d8d8"},"encoding":{"y":{"field":"row","type":"ordinal","axis":null,"scale":{"paddingInner":0,"paddingOuter":0}},"text":{"field":"avg","type":"quantitative","format":"d"}}}]},
 {"width":37,"height":315,"data":{"name":"stats"},"layer":[
  {"mark":{"type":"rect"},"encoding":{"y":{"field":"row","type":"ordinal","axis":null,"scale":{"paddingInner":0,"paddingOuter":0}},"fill":{"field":"plan","type":"nominal","legend":null,"scale":{"domain":["RBE","1.4"],"range":["#292929","#202020"]}}}},
  {"transform":[{"filter":"datum.row == 1"}],"mark":{"type":"rect","fill":"#3b3b3b"},"encoding":{"y":{"field":"row","type":"ordinal","axis":null,"scale":{"paddingInner":0,"paddingOuter":0}}}},
  {"mark":{"type":"text","align":"right","dx":13.5,"fontSize":9.5,"color":"#d8d8d8"},"encoding":{"y":{"field":"row","type":"ordinal","axis":null,"scale":{"paddingInner":0,"paddingOuter":0}},"text":{"field":"d50","type":"quantitative","format":"d"}}}]},
 {"width":36,"height":315,"data":{"name":"stats"},"layer":[
  {"mark":{"type":"rect"},"encoding":{"y":{"field":"row","type":"ordinal","axis":null,"scale":{"paddingInner":0,"paddingOuter":0}},"fill":{"field":"plan","type":"nominal","legend":null,"scale":{"domain":["RBE","1.4"],"range":["#292929","#202020"]}}}},
  {"transform":[{"filter":"datum.row == 1"}],"mark":{"type":"rect","fill":"#3b3b3b"},"encoding":{"y":{"field":"row","type":"ordinal","axis":null,"scale":{"paddingInner":0,"paddingOuter":0}}}},
  {"mark":{"type":"text","align":"right","dx":13,"fontSize":9.5,"color":"#d8d8d8"},"encoding":{"y":{"field":"row","type":"ordinal","axis":null,"scale":{"paddingInner":0,"paddingOuter":0}},"text":{"field":"d2","type":"quantitative","format":"d"}}}]},
 {"width":36,"height":315,"data":{"name":"stats"},"layer":[
  {"mark":{"type":"rect"},"encoding":{"y":{"field":"row","type":"ordinal","axis":null,"scale":{"paddingInner":0,"paddingOuter":0}},"fill":{"field":"plan","type":"nominal","legend":null,"scale":{"domain":["RBE","1.4"],"range":["#292929","#202020"]}}}},
  {"transform":[{"filter":"datum.row == 1"}],"mark":{"type":"rect","fill":"#3b3b3b"},"encoding":{"y":{"field":"row","type":"ordinal","axis":null,"scale":{"paddingInner":0,"paddingOuter":0}}}},
  {"mark":{"type":"text","align":"right","dx":14,"fontSize":9.5,"color":"#d8d8d8"},"encoding":{"y":{"field":"row","type":"ordinal","axis":null,"scale":{"paddingInner":0,"paddingOuter":0}},"text":{"field":"d1","type":"quantitative","format":"d"}}}]},
 {"width":1,"height":315,"view":{"fill":"#3a3a3a"},"data":{"name":"none"},"mark":{"type":"text","text":""}},
 {"width":72,"height":315,"data":{"name":"stats"},"layer":[
  {"mark":{"type":"rect"},"encoding":{"y":{"field":"row","type":"ordinal","axis":null,"scale":{"paddingInner":0,"paddingOuter":0}},"fill":{"field":"plan","type":"nominal","legend":null,"scale":{"domain":["RBE","1.4"],"range":["#292929","#202020"]}}}},
  {"transform":[{"filter":"datum.row == 1"}],"mark":{"type":"rect","fill":"#3b3b3b"},"encoding":{"y":{"field":"row","type":"ordinal","axis":null,"scale":{"paddingInner":0,"paddingOuter":0}}}},
  {"transform":[{"calculate":"datum.pct + ' %'","as":"pctl"}],"mark":{"type":"text","align":"right","dx":31,"fontSize":9.5,"color":"#d8d8d8"},"encoding":{"y":{"field":"row","type":"ordinal","axis":null,"scale":{"paddingInner":0,"paddingOuter":0}},"text":{"field":"pctl","type":"nominal"}}}]},
 {"width":1,"height":315,"view":{"fill":"#3a3a3a"},"data":{"name":"none"},"mark":{"type":"text","text":""}},
 {"width":86,"height":315,"data":{"name":"stats"},"layer":[
  {"mark":{"type":"rect"},"encoding":{"y":{"field":"row","type":"ordinal","axis":null,"scale":{"paddingInner":0,"paddingOuter":0}},"fill":{"field":"plan","type":"nominal","legend":null,"scale":{"domain":["RBE","1.4"],"range":["#292929","#202020"]}}}},
  {"transform":[{"filter":"datum.row == 1"}],"mark":{"type":"rect","fill":"#3b3b3b"},"encoding":{"y":{"field":"row","type":"ordinal","axis":null,"scale":{"paddingInner":0,"paddingOuter":0}}}}]}
]}
]}
